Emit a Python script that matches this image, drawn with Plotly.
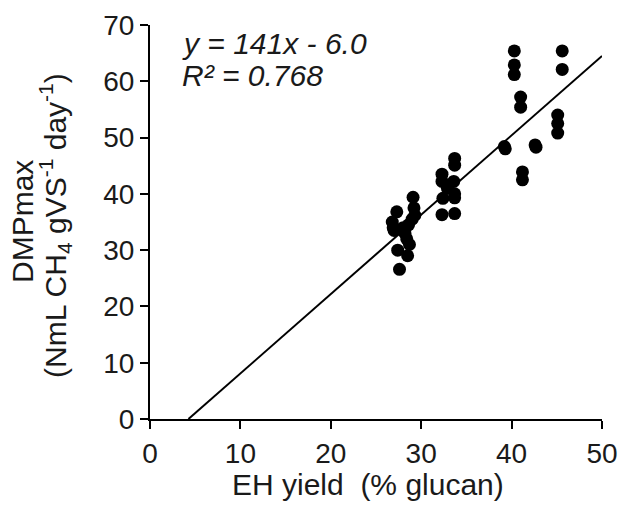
import plotly.graph_objects as go

# EH yield (% glucan) and DMPmax values
eh_yield = [26.8, 26.9, 27.0, 27.3, 27.4, 27.6, 28.0, 28.2, 28.4, 28.5, 28.6, 28.7,
            29.0, 29.1, 29.2, 29.3,
            32.3, 32.3, 32.4, 32.3, 32.9, 33.7, 33.7, 33.6, 33.7, 33.7, 33.7,
            39.2, 39.3, 40.3, 40.3, 40.3, 41.0, 41.0, 41.2, 41.2, 42.6, 42.7,
            45.1, 45.1, 45.1, 45.6, 45.6]
dmp_max = [35.0, 34.0, 33.5, 36.8, 30.0, 26.6, 34.0, 33.0, 32.0, 29.0, 34.5, 31.0,
           35.5, 39.4, 37.5, 36.2,
           43.5, 42.2, 39.2, 36.3, 41.0, 46.3, 45.1, 42.2, 40.0, 39.3, 36.5,
           48.4, 48.0, 65.4, 62.9, 61.2, 57.2, 55.4, 43.9, 42.5, 48.7, 48.3,
           54.0, 52.5, 50.8, 65.4, 62.1]

# Regression (x in % units): y = 1.41*x - 6.0
slope = 1.41
intercept = -6.0
x_max = 50
fit_x = [-intercept / slope, x_max]
fit_y = [slope * v + intercept for v in fit_x]

x_ticks = [0, 10, 20, 30, 40, 50]
y_ticks = [0, 10, 20, 30, 40, 50, 60, 70]

FONT = "Liberation Sans, Arial, sans-serif"
TXT = "#1a1a1a"

fig = go.Figure()
fig.add_trace(go.Scatter(x=fit_x, y=fit_y, mode="lines",
                         line=dict(color="black", width=2), showlegend=False))
fig.add_trace(go.Scatter(x=eh_yield, y=dmp_max, mode="markers",
                         marker=dict(color="black", size=13, line=dict(width=0)),
                         showlegend=False))

fig.update_layout(
    width=620, height=505,
    margin=dict(l=150, r=18, t=25, b=86, autoexpand=False),
    paper_bgcolor="white", plot_bgcolor="white",
    font=dict(family=FONT, size=28, color=TXT),
    xaxis=dict(range=[0, 50], tickvals=x_ticks, ticks="outside", ticklen=8,
               tickwidth=2, tickcolor="black", showline=True, linecolor="black",
               linewidth=2, showgrid=False, zeroline=False, automargin=False,
               tickfont=dict(size=28)),
    yaxis=dict(range=[0, 70], tickvals=y_ticks, ticks="outside", ticklen=8,
               tickwidth=2, tickcolor="black", showline=True, linecolor="black",
               linewidth=2, showgrid=False, zeroline=False, automargin=False,
               tickfont=dict(size=28)),
)

# x-axis title
fig.add_annotation(
    xref="paper", yref="paper", x=(368 - 150) / 452, y=-(484 - 419) / 394,
    xanchor="center", yanchor="middle",
    showarrow=False, text="EH yield  (% glucan)",
    font=dict(family=FONT, size=30, color=TXT),
)

# y-axis title (two lines)
fig.add_annotation(
    xref="paper", yref="paper", x=(22 - 150) / 452, y=0.5, xanchor="center", yanchor="middle",
    textangle=-90, showarrow=False, text="DMPmax",
    font=dict(family=FONT, size=30, color=TXT),
)
fig.add_annotation(
    xref="paper", yref="paper", x=(55 - 150) / 452, y=0.49, xanchor="center", yanchor="middle",
    textangle=-90, showarrow=False,
    text="(NmL CH<sub>4</sub> gVS<sup>-1</sup> day<sup>-1</sup>)",
    font=dict(family=FONT, size=30, color=TXT),
)

# regression equation
fig.add_annotation(
    xref="paper", yref="paper", x=(180 - 150) / 452, y=(419 - 43) / 394,
    xanchor="left", yanchor="middle", showarrow=False,
    text="<i>y = 141x - 6.0</i>", font=dict(family=FONT, size=30, color=TXT),
)
fig.add_annotation(
    xref="paper", yref="paper", x=(180 - 150) / 452, y=(419 - 75) / 394,
    xanchor="left", yanchor="middle", showarrow=False,
    text="<i>R² = 0.768</i>", font=dict(family=FONT, size=30, color=TXT),
)

fig.write_html("out.html")
